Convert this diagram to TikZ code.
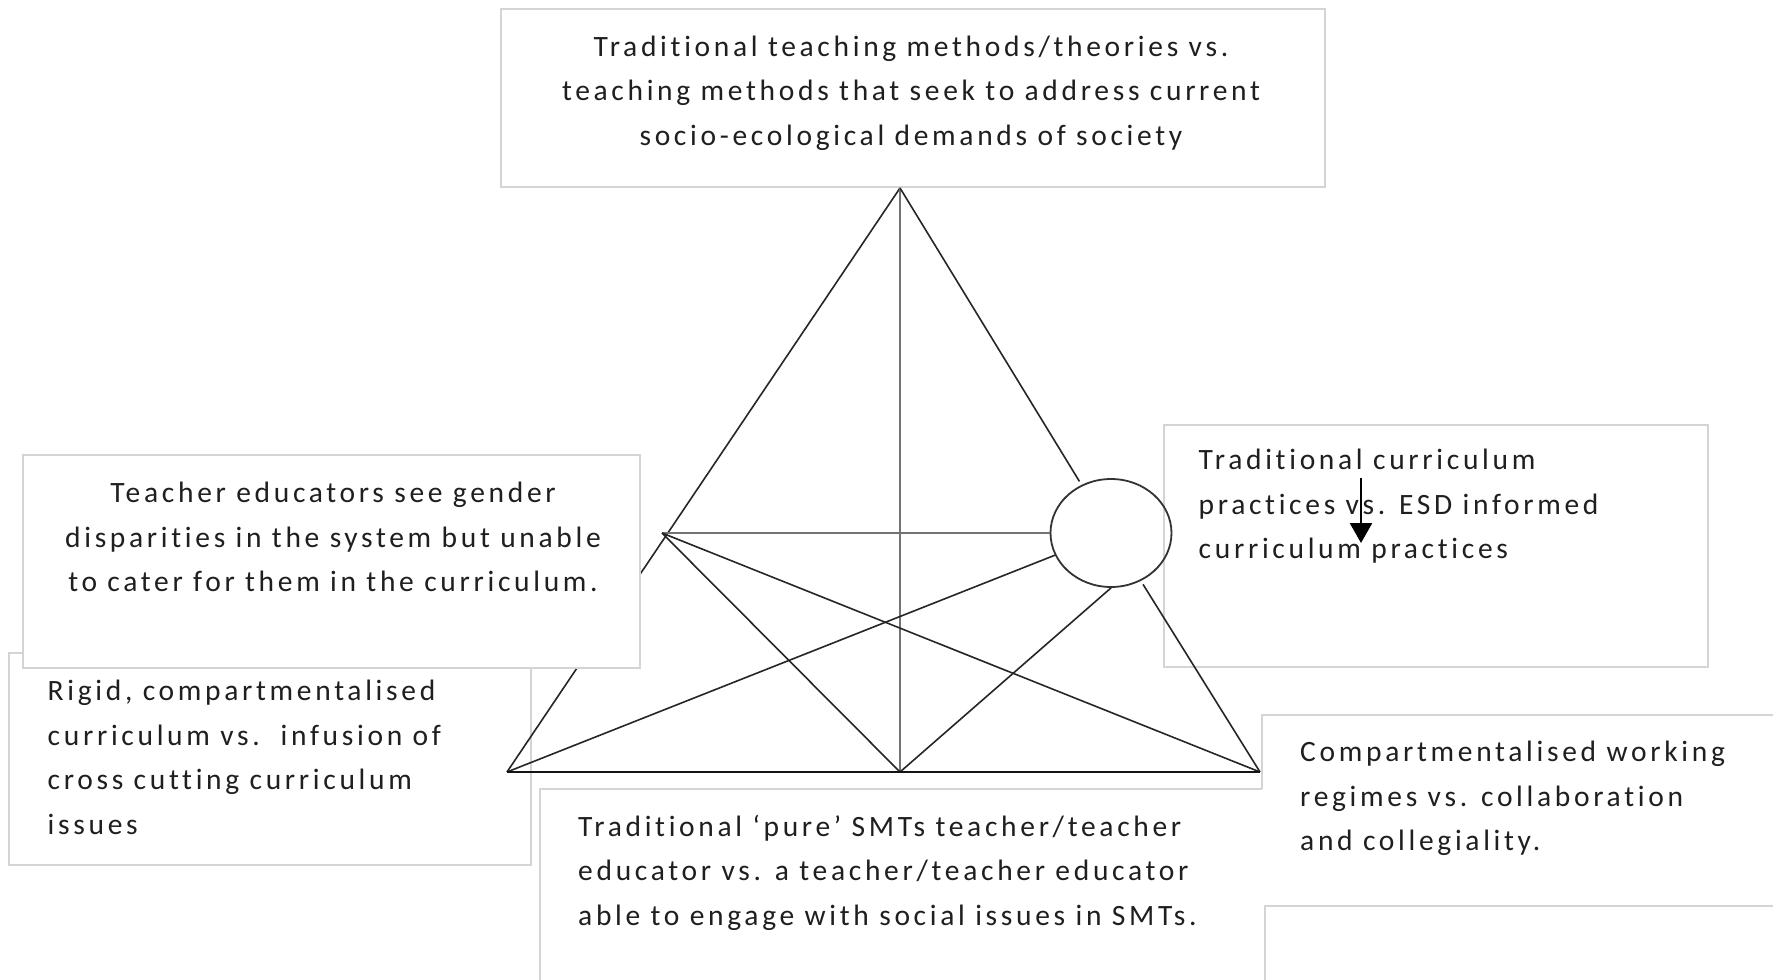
\documentclass[tikz,border=0pt]{standalone}
\usepackage{fontspec}
\setmainfont{Carlito}[LetterSpace=12.5, Ligatures=CommonOff]
\usetikzlibrary{shapes.geometric,arrows.meta}
\begin{document}
\begin{tikzpicture}[x=1pt,y=-1pt,
  frame/.style={draw=black!17, line width=1.6pt},
  panel/.style={frame, fill=white},
  label/.style={inner sep=0pt, text=black!88, font=\fontsize{29.5}{44.5}\selectfont},
  link/.style={draw=black!85, line width=1.6pt},
  axis/.style={draw=black!55, line width=2.3pt},
  hub/.style={ellipse, draw=black!80, line width=1.8pt, minimum width=121pt, minimum height=108pt, inner sep=0pt},
]
\useasboundingbox (0,0) rectangle (1773,980);
\fill[white] (0,0) rectangle (1773,980);

% panels lying under the network
\draw[panel] (9,653) rectangle (531,865);
\node[label, anchor=north west, align=left] (rigid) at (47.5,680)
  {\rule{0pt}{20pt}Rigid, compartmentalised\\curriculum vs.\ \ infusion of\\cross cutting curriculum\\issues};
\draw[panel] (1164,425) rectangle (1708,667);
\node[label, anchor=north west, align=left] (curr) at (1198.5,449)
  {\rule{0pt}{20pt}Traditional curriculum\\practices vs. ESD informed\\curriculum practices};

% partly hidden boxes along the bottom
\draw[frame] (540,980) -- (540,789) -- (1262,789);
\node[label, anchor=north west, align=left] (pure) at (578,815)
  {\rule{0pt}{20pt}Traditional ‘pure’ SMTs teacher/teacher\\educator vs. a teacher/teacher educator\\able to engage with social issues in SMTs.};
\draw[frame] (1262,789) -- (1262,715) -- (1773,715);
\node[label, anchor=north west, align=left] (work) at (1300,741)
  {\rule{0pt}{20pt}Compartmentalised working\\regimes vs. collaboration\\and collegiality.};
\draw[frame] (1265,980) -- (1265,906) -- (1773,906);

% top box
\draw[panel] (501,9) rectangle (1325,187);
\node[label, anchor=north, align=center] (methods) at (911,35.5)
  {\rule{0pt}{20pt}Traditional teaching methods/theories vs.\\teaching methods that seek to address current\\socio-ecological demands of society};

% network points
\coordinate (A) at (900,188);
\coordinate (BL) at (507,772);
\coordinate (BM) at (900,772);
\coordinate (BR) at (1260,772);
\coordinate (BRs) at (1124,772);
\coordinate (L) at (662,533);
\node[hub] (C) at (1111,533) {};

\draw[link] (A) -- (BL);
\draw[axis] (A) -- (BM);
\draw[link, shorten >=4pt] (A) -- (C);
\draw[link, shorten <=4pt] (C) -- (BR);
\draw[axis] (L) -- (C);
\draw[link] (L) -- (BM);
\draw[link] (L) -- (BR);
\draw[link] (BL) -- (C);
\draw[link] (BM) -- (C.south);
\draw[link, draw=black!92, line width=1.8pt] (BL) -- (BR);
\draw[link, draw=black!92, line width=2.5pt] (BRs) -- (BR);

% box lying over the left edge of the triangle
\draw[panel] (23,455) rectangle (640,668);
\node[label, anchor=north, align=center] (gender) at (333,482)
  {\rule{0pt}{20pt}Teacher educators see gender\\disparities in the system but unable\\to cater for them in the curriculum.};

% arrow over the right-hand text
\coordinate (arrS) at (1361,478);
\coordinate (arrE) at (1361,543);
\draw[black, line width=2.5pt, -{Triangle[width=22pt,length=20pt]}] (arrS) -- (arrE);
\end{tikzpicture}
\end{document}
